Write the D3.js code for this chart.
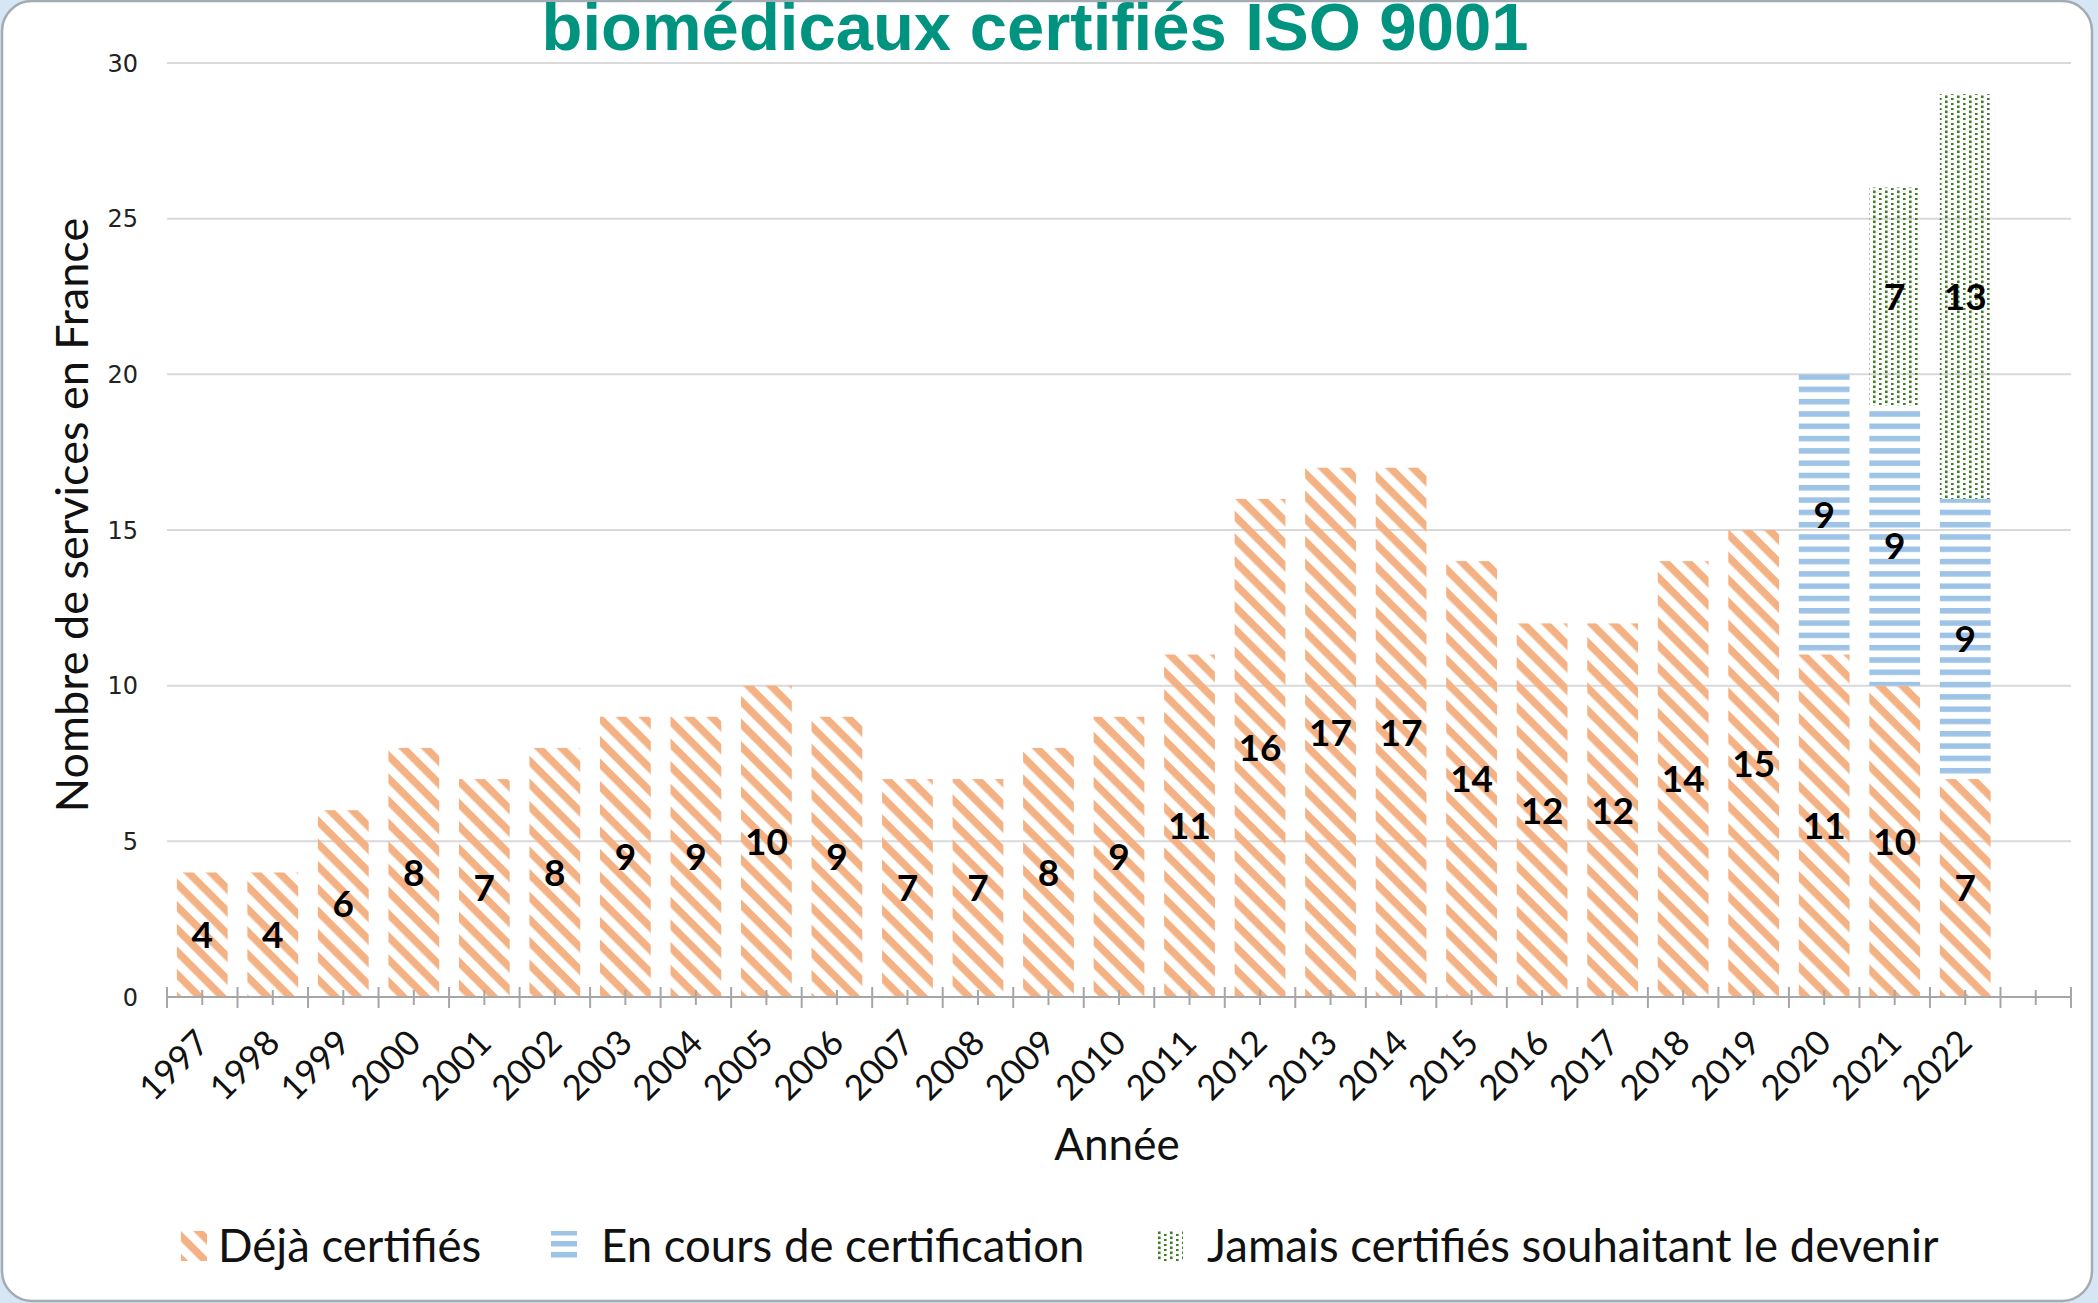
<!DOCTYPE html>
<html lang="fr">

<head>
  <meta charset="utf-8">
  <title> Services biomédicaux certifiés ISO 9001 </title>
  <script src="https://d3js.org/d3.v7.min.js"> </script>
  <style>
    body {
      margin: 0;
      background: #d6e6f4;
    }

    svg {
      display: block;
    }
  </style>
</head>

<body>
  <script>
    // Years on the x axis (one extra empty slot at the end, as in the original)
    var years = ["1997", "1998", "1999", "2000", "2001", "2002", "2003", "2004", "2005",
      "2006", "2007", "2008", "2009", "2010", "2011", "2012", "2013", "2014", "2015",
      "2016", "2017", "2018", "2019", "2020", "2021", "2022"];
    var slots = years.concat([""]);

    // Series values, one per year
    var dejaCertifies = [4, 4, 6, 8, 7, 8, 9, 9, 10, 9, 7, 7, 8, 9, 11, 16, 17, 17, 14, 12, 12, 14, 15, 11, 10, 7];
    var enCours = [0, 0, 0, 0, 0, 0, 0, 0, 0, 0, 0, 0, 0, 0, 0, 0, 0, 0, 0, 0, 0, 0, 0, 9, 9, 9];
    var jamais = [0, 0, 0, 0, 0, 0, 0, 0, 0, 0, 0, 0, 0, 0, 0, 0, 0, 0, 0, 0, 0, 0, 0, 0, 7, 13];

    var seriesNames = ["Déjà certifiés", "En cours de certification", "Jamais certifiés souhaitant le devenir"];
    var yTicks = [0, 5, 10, 15, 20, 25, 30];

    var W = 2098, H = 1303;
    // plot area (window.top is read-only, so no plain "top" here)
    var plotL = 167, plotR = 2071, plotT = 63, plotB = 997;
    var legendY = 1231;

    var svg = d3.select("body")
      .append("svg")
      .attr("width", W)
      .attr("height", H);

    // Scales
    var x = d3.scaleBand()
      .domain(slots)
      .range([plotL, plotR])
      .paddingInner(0.28)
      .paddingOuter(0.14);

    var y = d3.scaleLinear()
      .domain([0, 30])
      .range([plotB, plotT]);

    // Patterns for the three series
    var defs = svg.append("defs");

    var pOrange = defs.append("pattern")
      .attr("id", "p-orange")
      .attr("patternUnits", "userSpaceOnUse")
      .attr("width", 16).attr("height", 16)
      .attr("patternTransform", "rotate(45)");
    pOrange.append("rect").attr("width", 16).attr("height", 7.5).attr("fill", "#f4b183");

    // horizontal stripes, one copy lined up with the bars, one with the legend
    [["p-blue", y(20), 12.3], ["p-blue-leg", legendY, 11]].forEach(function(p) {
      var pat = defs.append("pattern")
        .attr("id", p[0])
        .attr("patternUnits", "userSpaceOnUse")
        .attr("y", p[1])
        .attr("width", 12).attr("height", p[2]);
      pat.append("rect").attr("width", 12).attr("height", 5.5).attr("fill", "#9dc3e6");
    });

    var pGreen = defs.append("pattern")
      .attr("id", "p-green")
      .attr("patternUnits", "userSpaceOnUse")
      .attr("width", 12).attr("height", 5);
    pGreen.append("rect").attr("x", 1).attr("y", 0.5).attr("width", 2.6).attr("height", 2.6).attr("fill", "#3f7d22");
    pGreen.append("rect").attr("x", 7).attr("y", 3).attr("width", 2.6).attr("height", 2.6).attr("fill", "#3f7d22");

    var fills = ["url(#p-orange)", "url(#p-blue)", "url(#p-green)"];
    var legendFills = ["url(#p-orange)", "url(#p-blue-leg)", "url(#p-green)"];

    // Rounded frame
    svg.append("rect")
      .attr("x", 2).attr("y", 1)
      .attr("width", 2090).attr("height", 1300)
      .attr("rx", 30)
      .attr("fill", "#fff")
      .attr("stroke", "#a3abb3")
      .attr("stroke-width", 2.5);

    // Gridlines
    svg.append("g")
      .selectAll("line")
      .data(yTicks.slice(1))
      .enter().append("line")
      .attr("x1", plotL).attr("x2", plotR)
      .attr("y1", function(d) { return y(d); })
      .attr("y2", function(d) { return y(d); })
      .attr("stroke", "#d9d9d9")
      .attr("stroke-width", 2);

    // Y axis labels
    svg.append("g")
      .selectAll("text")
      .data(yTicks)
      .enter().append("text")
      .attr("x", 138)
      .attr("y", function(d) { return y(d); })
      .attr("dy", "0.36em")
      .attr("text-anchor", "end")
      .style("font", "24px 'DejaVu Sans'")
      .style("fill", "#222")
      .text(function(d) { return d; });

    // Stack the data
    var table = years.map(function(yr, i) {
      return { year: yr, a: dejaCertifies[i], b: enCours[i], c: jamais[i] };
    });
    var stacked = d3.stack().keys(["a", "b", "c"])(table);

    var layers = svg.append("g")
      .selectAll("g")
      .data(stacked)
      .enter().append("g")
      .attr("fill", function(d, i) { return fills[i]; });

    layers.selectAll("rect")
      .data(function(d) { return d.filter(function(s) { return s[1] - s[0] > 0; }); })
      .enter().append("rect")
      .attr("x", function(d) { return x(d.data.year); })
      .attr("width", x.bandwidth())
      .attr("y", function(d) { return y(d[1]); })
      .attr("height", function(d) { return y(d[0]) - y(d[1]); });

    // Value labels in the middle of each segment
    layers.selectAll("text")
      .data(function(d) { return d.filter(function(s) { return s[1] - s[0] > 0; }); })
      .enter().append("text")
      .attr("x", function(d) { return x(d.data.year) + x.bandwidth() / 2; })
      .attr("y", function(d) { return y((d[0] + d[1]) / 2); })
      .attr("dy", "0.36em")
      .attr("text-anchor", "middle")
      .style("font", "bold 37px Lato")
      .style("fill", "#000")
      .text(function(d) { return d[1] - d[0]; });

    // X axis line and ticks
    var axis = svg.append("g").attr("stroke", "#a6a6a6").attr("stroke-width", 2);
    axis.append("line")
      .attr("x1", plotL).attr("x2", plotR)
      .attr("y1", plotB).attr("y2", plotB);

    var step = x.step();
    axis.selectAll(".major")
      .data(d3.range(slots.length + 1))
      .enter().append("line")
      .attr("x1", function(i) { return plotL + i * step; })
      .attr("x2", function(i) { return plotL + i * step; })
      .attr("y1", plotB - 10).attr("y2", plotB + 11);
    axis.selectAll(".minor")
      .data(slots)
      .enter().append("line")
      .attr("x1", function(d) { return x(d) + x.bandwidth() / 2; })
      .attr("x2", function(d) { return x(d) + x.bandwidth() / 2; })
      .attr("y1", plotB - 7).attr("y2", plotB + 8);

    // Year labels, rotated
    svg.append("g")
      .selectAll("text")
      .data(years)
      .enter().append("text")
      .attr("transform", function(d) {
        return "translate(" + (x(d) + x.bandwidth() / 2 + 9) + "," + (plotB + 48) + ") rotate(-45)";
      })
      .attr("text-anchor", "end")
      .style("font", "35px Lato")
      .style("fill", "#111")
      .text(function(d) { return d; });

    // Axis titles
    svg.append("text")
      .attr("x", 1117).attr("y", 1160)
      .attr("text-anchor", "middle")
      .style("font", "44px Lato")
      .style("fill", "#111")
      .text("Année");

    svg.append("text")
      .attr("transform", "translate(88,515) rotate(-90)")
      .attr("text-anchor", "middle")
      .style("font", "45px Lato")
      .style("fill", "#111")
      .text("Nombre de services en France");

    // Title (its first line is outside the picture)
    svg.append("text")
      .attr("x", 1035).attr("y", 50)
      .attr("text-anchor", "middle")
      .style("font", "bold 67px 'Liberation Sans'")
      .style("fill", "#009480")
      .text("biomédicaux certifiés ISO 9001");

    // Legend
    var legendX = [181, 551, 1157];
    var legend = svg.append("g")
      .selectAll("g")
      .data(seriesNames)
      .enter().append("g")
      .attr("transform", function(d, i) { return "translate(" + legendX[i] + "," + legendY + ")"; });

    legend.append("rect")
      .attr("width", 26).attr("height", 30)
      .attr("fill", function(d, i) { return legendFills[i]; });

    legend.append("text")
      .attr("x", function(d, i) { return i == 0 ? 37 : 50; })
      .attr("y", 31)
      .style("font", "45.5px Lato")
      .style("fill", "#111")
      .text(function(d) { return d; });
  </script>
</body>

</html>
